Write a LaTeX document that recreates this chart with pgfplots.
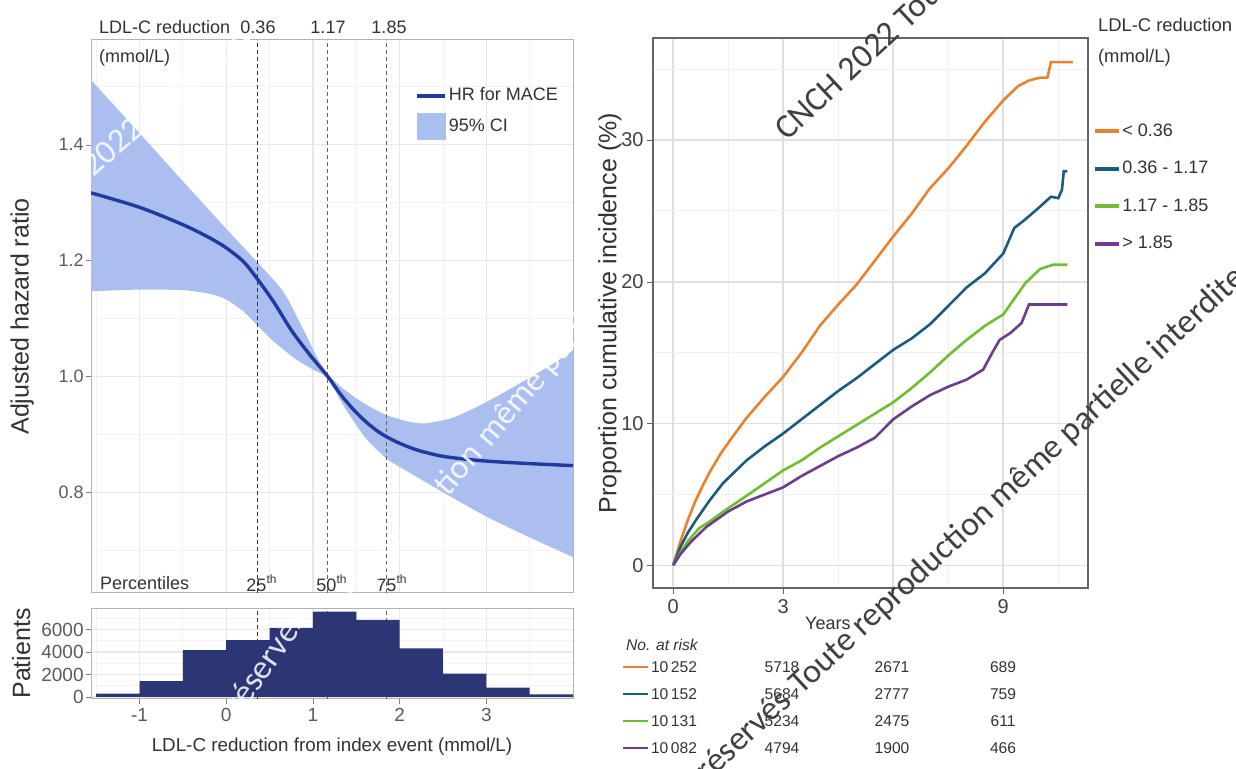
\documentclass[border=0pt]{standalone}
\usepackage{fontspec}
\setmainfont{Liberation Sans}
\newfontfamily\wmfont{Carlito}
\usepackage{pgfplots}
\pgfplotsset{compat=1.18}

\definecolor{hrline}{RGB}{33,58,160}
\definecolor{ciband}{RGB}{170,190,240}
\definecolor{histbar}{RGB}{44,54,116}
\definecolor{qorange}{RGB}{232,130,48}
\definecolor{qblue}{RGB}{26,92,128}
\definecolor{qgreen}{RGB}{112,190,48}
\definecolor{qpurple}{RGB}{108,60,142}
\definecolor{txt}{RGB}{50,50,50}
\definecolor{ticktxt}{RGB}{90,90,90}

\newcommand{\fs}[1]{\fontsize{#1}{#1}\selectfont}
\pgfplotsset{/pgf/number format/assume math mode=true}

\begin{document}
\begin{tikzpicture}
\useasboundingbox (0,0) rectangle (618pt,384.5pt);

% ---------------- spline: adjusted hazard ratio ----------------
\begin{axis}[
  at={(45.5pt,88pt)}, anchor=south west, scale only axis,
  width=241pt, height=276.5pt,
  xmin=-1.56, xmax=4.0, ymin=0.626, ymax=1.581,
  axis line style={black!30, line width=0.5pt},
  xtick={-1,0,1,2,3}, xticklabels={}, minor xtick={-1.5,-0.5,0.5,1.5,2.5,3.5},
  ytick={0.8,1.0,1.2,1.4}, yticklabels={0.8,1.0,1.2,1.4},
  minor ytick={0.7,0.9,1.1,1.3,1.5},
  grid=both, major grid style={black!9, line width=0.6pt}, minor grid style={black!5, line width=0.4pt},
  tick pos=left, tick align=outside, major tick length=2.5pt, minor tick length=0pt,
  xtick style={draw=none}, ytick style={black!50},
  yticklabel style={font=\fs{9}, text=ticktxt, inner sep=1pt},
  ylabel={Adjusted hazard ratio},
  ylabel style={font=\fs{12.5}, text=txt, at={(axis description cs:-0.143,0.5)}, anchor=center},
  legend style={at={(axis description cs:0.672,0.917)}, anchor=north west, draw=none, fill=none,
    inner sep=0pt, font=\fs{9}, text=txt, row sep=4pt, nodes={inner sep=0.8pt}},
  legend cell align=left,
]
% 95% CI band: upper limit left to right, then lower limit right to left
\addplot[fill=ciband, draw=none, smooth, tension=0.4, forget plot] coordinates {
  (-1.70,1.535) (-1.56,1.512) (-1.0,1.420) (-0.5,1.337) (0,1.255) (0.36,1.197) (0.66,1.146)
  (0.9,1.078) (1.05,1.032) (1.17,1.004) (1.3,0.985) (1.5,0.962) (1.7,0.944)
  (1.85,0.933) (2.1,0.922) (2.3,0.919) (2.6,0.928) (2.9,0.948) (3.2,0.972)
  (3.5,0.998) (3.75,1.020) (4.0,1.045) (4.15,1.058)
  (4.15,0.678) (4.0,0.688) (3.5,0.722) (3.0,0.758) (2.5,0.800) (2.1,0.835) (1.85,0.858)
  (1.6,0.895) (1.35,0.950) (1.17,0.997) (1.0,1.012) (0.8,1.030) (0.55,1.060)
  (0.36,1.088) (0.2,1.112) (0,1.133) (-0.2,1.143) (-0.5,1.149) (-1.0,1.150)
  (-1.56,1.147) (-1.70,1.147)} -- cycle;

\addplot[black!80, line width=0.6pt, dash pattern=on 2pt off 1.5pt, forget plot] coordinates {(0.36,0.626) (0.36,1.581)};
\addplot[black!60, line width=0.6pt, dash pattern=on 2pt off 1.5pt, forget plot] coordinates {(1.17,0.626) (1.17,1.581)};
\addplot[black!60, line width=0.6pt, dash pattern=on 2pt off 1.5pt, forget plot] coordinates {(1.85,0.626) (1.85,1.581)};

\addplot[hrline, line width=1.7pt, smooth, forget plot] coordinates {
  (-1.56,1.317) (-1.0,1.292) (-0.5,1.262) (-0.2,1.240) (0,1.222) (0.2,1.198)
  (0.36,1.168) (0.55,1.128) (0.75,1.080) (0.95,1.040) (1.17,1.000) (1.35,0.963)
  (1.55,0.930) (1.75,0.905) (1.95,0.888) (2.2,0.873) (2.5,0.862) (2.9,0.855)
  (3.3,0.851) (3.7,0.848) (4.0,0.846)};

\addlegendimage{legend image code/.code={\draw[hrline, line width=2pt] (0pt,0pt) -- (14pt,0pt);}}
\addlegendentry{HR for MACE}
\addlegendimage{legend image code/.code={\fill[ciband] (0pt,-6.5pt) rectangle (14pt,6.5pt);}}
\addlegendentry{95\% CI}
\end{axis}

% ---------------- histogram of LDL-C reduction ----------------
\begin{axis}[
  at={(45.5pt,35pt)}, anchor=south west, scale only axis,
  width=241pt, height=45.5pt,
  xmin=-1.56, xmax=4.0, ymin=-180, ymax=7911,
  axis line style={black!30, line width=0.5pt},
  xtick={-1,0,1,2,3}, xticklabels={-1,0,1,2,3},
  minor xtick={-1.5,-0.5,0.5,1.5,2.5,3.5},
  ytick={0,2000,4000,6000}, yticklabels={0,2000,4000,6000},
  minor ytick={1000,3000,5000,7000},
  grid=both, major grid style={black!9, line width=0.6pt}, minor grid style={black!5, line width=0.4pt},
  tick pos=left, tick align=outside, major tick length=2.5pt, minor tick length=0pt,
  tick style={black!50},
  xticklabel style={font=\fs{9.5}, text=ticktxt, inner sep=2pt},
  yticklabel style={font=\fs{9.5}, text=ticktxt, inner sep=1pt},
  ylabel={Patients},
  ylabel style={font=\fs{12.5}, text=txt, at={(axis description cs:-0.145,0.5)}, anchor=center},
  xlabel={LDL-C reduction from index event (mmol/L)},
  xlabel style={font=\fs{9.4}, text=txt, at={(axis description cs:0.5,0)}, anchor=center, yshift=-24pt},
]
\addplot[black!80, line width=0.6pt, dash pattern=on 2pt off 1.5pt] coordinates {(0.36,-180) (0.36,7911)};
\addplot[black!60, line width=0.6pt, dash pattern=on 2pt off 1.5pt] coordinates {(1.17,-180) (1.17,7911)};
\addplot[black!60, line width=0.6pt, dash pattern=on 2pt off 1.5pt] coordinates {(1.85,-180) (1.85,7911)};
\addplot[ybar interval, fill=histbar, draw=none] coordinates {
  (-1.5,300) (-1.0,1400) (-0.5,4170) (0,5060) (0.5,6150) (1.0,7580)
  (1.5,6850) (2.0,4330) (2.5,2080) (3.0,830) (3.5,220) (4.0,0)};
\end{axis}

% ---------------- cumulative incidence by LDL-C reduction ----------------
\begin{axis}[
  at={(326.5pt,90.5pt)}, anchor=south west, scale only axis,
  width=217.5pt, height=275pt,
  xmin=-0.55, xmax=11.31, ymin=-1.6, ymax=37.2,
  xtick={0,3,6,9}, xticklabels={0,3,,9}, minor xtick={1.5,4.5,7.5,10.5},
  ytick={0,10,20,30}, yticklabels={0,10,20,30}, minor ytick={5,15,25,35},
  grid=both, major grid style={black!12, line width=0.8pt}, minor grid style={black!6, line width=0.5pt},
  axis line style={black!60, line width=0.6pt},
  tick pos=left, tick align=outside, major tick length=3pt, minor tick length=0pt,
  tick style={black!60},
  xticklabel style={font=\fs{10}, text=black!75, inner sep=2.5pt},
  yticklabel style={font=\fs{10}, text=black!75, inner sep=1.5pt},
  ylabel={Proportion cumulative incidence (\%)},
  ylabel style={font=\fs{12.5}, text=txt, at={(axis description cs:-0.099,0.5)}, anchor=center},
  xlabel={Years},
  xlabel style={font=\fs{9}, text=txt, at={(axis description cs:0.402,0)}, anchor=center, yshift=-17.5pt},
  legend style={at={(axis description cs:1.0115,0.847)}, anchor=north west, draw=none, fill=none,
    inner sep=0pt, font=\fs{9}, text=txt, row sep=10pt, nodes={inner sep=0.5pt}},
  legend cell align=left,
  legend image code/.code={\draw[#1, line width=2pt] (0pt,0pt) -- (12pt,0pt);},
]
\addplot[qorange, line width=1.3pt] coordinates {
  (0,0) (0.2,1.7) (0.4,3.2) (0.6,4.5) (0.8,5.6) (1.0,6.6) (1.3,7.9) (1.6,9.0)
  (2.0,10.4) (2.5,11.9) (3.0,13.3) (3.5,15.0) (4.0,16.9) (4.5,18.4) (5.0,19.8)
  (5.5,21.5) (6.0,23.2) (6.5,24.8) (7.0,26.6) (7.5,28.0) (8.0,29.6) (8.5,31.3)
  (9.0,32.8) (9.4,33.8) (9.7,34.2) (10.0,34.4) (10.2,34.4) (10.3,35.5) (10.9,35.5)};
\addlegendentry{< 0.36}
\addplot[qblue, line width=1.3pt] coordinates {
  (0,0) (0.2,1.3) (0.4,2.3) (0.65,3.3) (1.0,4.6) (1.36,5.8) (2.0,7.4) (2.5,8.4)
  (3.0,9.3) (3.5,10.3) (4.0,11.3) (4.5,12.3) (5.0,13.2) (5.5,14.2) (6.0,15.2)
  (6.5,16.0) (7.0,17.0) (7.5,18.3) (8.0,19.6) (8.5,20.6) (9.0,22.0) (9.3,23.8)
  (9.6,24.4) (10.0,25.3) (10.3,26.0) (10.5,25.9) (10.6,26.5) (10.65,27.8) (10.75,27.8)};
\addlegendentry{0.36 - 1.17}
\addplot[qgreen, line width=1.3pt] coordinates {
  (0,0) (0.2,0.9) (0.4,1.7) (0.7,2.6) (1.0,3.1) (1.37,3.8) (2.0,4.9) (2.5,5.8)
  (3.0,6.7) (3.5,7.4) (4.0,8.3) (4.5,9.1) (5.0,9.9) (5.5,10.7) (6.0,11.5)
  (6.5,12.5) (7.0,13.6) (7.5,14.8) (8.0,15.9) (8.5,16.9) (9.0,17.7) (9.3,18.8)
  (9.6,19.9) (10.0,20.9) (10.35,21.2) (10.75,21.2)};
\addlegendentry{1.17 - 1.85}
\addplot[qpurple, line width=1.3pt] coordinates {
  (0,0) (0.2,0.8) (0.5,1.7) (0.9,2.7) (1.5,3.8) (2.0,4.5) (2.5,5.0) (3.0,5.5)
  (3.5,6.3) (4.0,7.0) (4.5,7.7) (5.0,8.3) (5.5,9.0) (6.0,10.3) (6.5,11.2)
  (7.0,12.0) (7.5,12.6) (8.0,13.1) (8.45,13.8) (8.7,15.0) (8.9,15.9) (9.2,16.4)
  (9.5,17.1) (9.7,18.4) (10.75,18.4)};
\addlegendentry{> 1.85}
\end{axis}

% ---------------- annotations (pixel grid of the figure) ----------------
\begin{scope}[x=0.5pt, y=-0.5pt, shift={(0pt,384.5pt)}]
  \begin{scope}[font=\fs{9}, text=txt]
    \node[anchor=west] at (92,27) {LDL-C reduction};
    \node at (258,27) {0.36};
    \node at (328,27) {1.17};
    \node at (389,27) {1.85};
    \node[anchor=west] at (92,58) {(mmol/L)};
    \node[anchor=west] at (93,583) {Percentiles};
    \node at (262,583) {25\textsuperscript{th}};
    \node at (332,583) {50\textsuperscript{th}};
    \node at (392,583) {75\textsuperscript{th}};
    \node[anchor=west, font=\fs{9.2}] at (1091,25) {LDL-C reduction};
    \node[anchor=west, font=\fs{9.2}] at (1091,58) {(mmol/L)};
  \end{scope}
  % number at risk
  \begin{scope}[font=\fs{7.8}, text=txt]
    \node[anchor=west, font=\fs{7.8}\itshape] at (619,645) {No. at risk};
    \draw[qorange, line width=1.3pt] (623,667) -- (648,667);
    \draw[qblue, line width=1.3pt] (623,694) -- (648,694);
    \draw[qgreen, line width=1.3pt] (623,721) -- (648,721);
    \draw[qpurple, line width=1.3pt] (623,748) -- (648,748);
    \node at (674,667) {10\,252}; \node at (782,667) {5718}; \node at (892,667) {2671}; \node at (1003,667) {689};
    \node at (674,694) {10\,152}; \node at (782,694) {5684}; \node at (892,694) {2777}; \node at (1003,694) {759};
    \node at (674,721) {10\,131}; \node at (782,721) {5234}; \node at (892,721) {2475}; \node at (1003,721) {611};
    \node at (674,748) {10\,082}; \node at (782,748) {4794}; \node at (892,748) {1900}; \node at (1003,748) {466};
  \end{scope}
  % copyright overprint, white on the left panels
  \begin{scope}
    \clip (91,40) rectangle (573,593);
    \node[anchor=base east, rotate=41, font=\wmfont\fs{17}, text=white, opacity=0.85, inner sep=0pt] at (146,132) {CNCH 2022};
    \node[anchor=base west, rotate=41, font=\wmfont\fs{17}, text=white, opacity=0.85, inner sep=0pt] at (150,128) {Tous droits};
    \node[anchor=base east, rotate=50, font=\wmfont\fs{17}, text=white, opacity=0.85, inner sep=0pt] at (484,455) {Toute reproduction};
    \node[anchor=base west, rotate=50, font=\wmfont\fs{17}, text=white, opacity=0.85, inner sep=0pt] at (490,449) {même partielle interdite};
  \end{scope}
  \begin{scope}
    \clip (91,608) rectangle (573,699);
    \node[anchor=base east, rotate=55, font=\wmfont\fs{17}, text=white, opacity=0.85, inner sep=0pt] at (318,606) {réservés -};
  \end{scope}
  % copyright overprint, dark on the right panel
  \node[anchor=base west, rotate=43, font=\wmfont\fs{17}, text=black!75, inner sep=0pt] at (787,142) {CNCH 2022 Tous};
  \node[anchor=base east, rotate=43, font=\wmfont\fs{17}, text=black!75, inner sep=0pt] at (793,703) {réservés};
  \node[anchor=base west, rotate=43, font=\wmfont\fs{17}, text=black!75, inner sep=0pt] at (801,696) {Toute reproduction même partielle interdite};
\end{scope}
\end{tikzpicture}
\end{document}
